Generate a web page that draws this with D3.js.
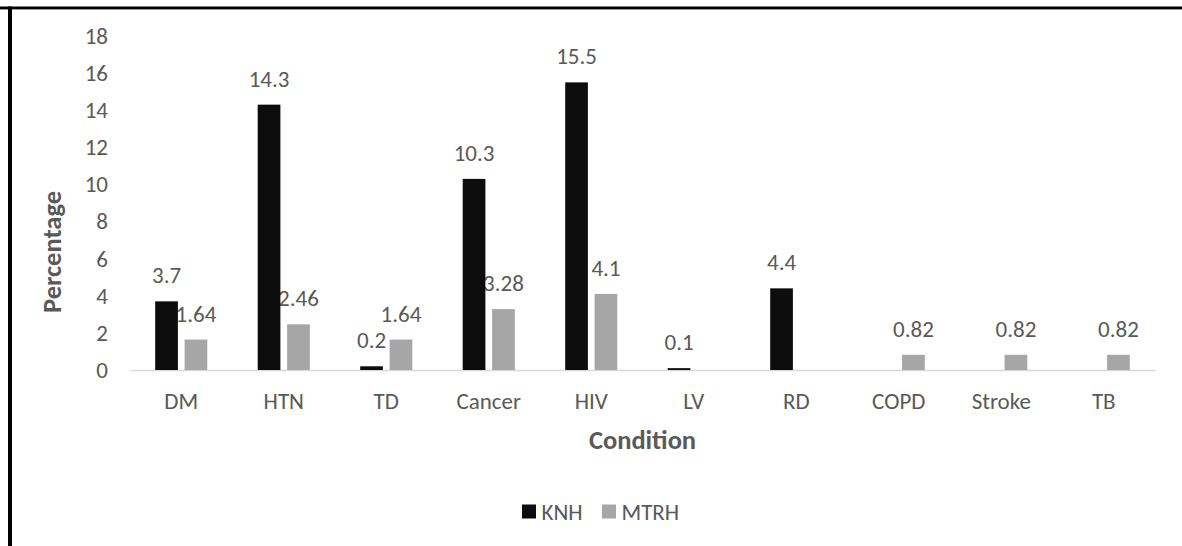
<!DOCTYPE html>
<html>
<head>
<meta charset="utf-8">
<script src="https://cdn.jsdelivr.net/npm/d3@7"></script>
<style>
  html, body { margin: 0; padding: 0; background: #fff; }
  svg { display: block; }
  text { font-family: Carlito, Lato, "Open Sans", sans-serif; fill: #595959; }
</style>
</head>
<body>
<svg id="chart" width="1182" height="546"></svg>
<script>
// Conditions on the x axis
const categories = ["DM", "HTN", "TD", "Cancer", "HIV", "LV", "RD", "COPD", "Stroke", "TB"];
// Percentages per hospital (null = not reported)
const knh  = [3.7, 14.3, 0.2, 10.3, 15.5, 0.1, 4.4, null, null, null];
const mtrh = [1.64, 2.46, 1.64, 3.28, 4.1, null, null, 0.82, 0.82, 0.82];
const seriesNames = ["KNH", "MTRH"];
const seriesColors = ["#0d0d0d", "#a6a6a6"];
const yTicks = [0, 2, 4, 6, 8, 10, 12, 14, 16, 18];

const W = 1182, H = 546;
const plot = { left: 130, right: 1155, top: 36, bottom: 370 };
const FS = 23;         // regular text size
const FS_TITLE = 26.5; // axis title size

const svg = d3.select("#chart");

// Frame lines on the top and left edge
svg.append("rect").attr("x", 0).attr("y", 6.5).attr("width", W).attr("height", 2.5).attr("fill", "#000");
svg.append("rect").attr("x", 0).attr("y", 9).attr("width", W).attr("height", 1).attr("fill", "#9a9a9a");
svg.append("rect").attr("x", 8).attr("y", 6.5).attr("width", 4).attr("height", H).attr("fill", "#000");

const x0 = d3.scaleBand().domain(categories).range([plot.left, plot.right]).paddingInner(0).paddingOuter(0);
const x1 = d3.scaleBand().domain(seriesNames).range([0, x0.bandwidth()])
  .paddingInner(0.228).paddingOuter(0.857);
const y = d3.scaleLinear().domain([0, 18]).range([plot.bottom, plot.top]);

// Y axis: labels only
const yAxis = d3.axisLeft(y).tickValues(yTicks).tickSize(0).tickPadding(0).tickFormat(d3.format("d"));
const gy = svg.append("g").attr("transform", `translate(108,0)`).call(yAxis);
gy.select(".domain").remove();
gy.selectAll("text").attr("font-size", FS).style("fill", "#595959")
  .style("font-family", "Carlito, Lato, 'Open Sans', sans-serif");

// X axis: baseline and category labels
const xAxis = d3.axisBottom(x0).tickSize(0).tickPadding(0);
const gx = svg.append("g").attr("transform", `translate(0,${plot.bottom})`).call(xAxis);
gx.select(".domain").attr("stroke", "#d9d9d9").attr("stroke-width", 1.5);
gx.selectAll("text").attr("font-size", FS).attr("dy", "0.35em").attr("y", 31)
  .style("fill", "#595959").style("font-family", "Carlito, Lato, 'Open Sans', sans-serif");

const rows = categories.map((c, i) => ({ cat: c, values: [knh[i], mtrh[i]] }));
const marks = [];
rows.forEach(r => r.values.forEach((v, j) => {
  if (v !== null) marks.push({ cat: r.cat, series: seriesNames[j], color: seriesColors[j], value: v });
}));

// Value labels (drawn beneath the bars)
svg.append("g").selectAll("text").data(marks).join("text")
  .attr("x", d => x0(d.cat) + x1(d.series) + x1.bandwidth() / 2)
  .attr("y", d => y(d.value) - 18)
  .attr("text-anchor", "middle")
  .attr("font-size", FS)
  .text(d => String(d.value));

// Bars
svg.append("g").selectAll("rect").data(marks).join("rect")
  .attr("x", d => x0(d.cat) + x1(d.series))
  .attr("width", x1.bandwidth())
  .attr("y", d => y(d.value))
  .attr("height", d => y(0) - y(d.value))
  .attr("fill", d => d.color);

// Axis titles
svg.append("text").attr("x", (plot.left + plot.right) / 2).attr("y", 440).attr("dy", "0.35em")
  .attr("text-anchor", "middle").attr("font-size", FS_TITLE).attr("font-weight", "bold").text("Condition");
svg.append("text").attr("transform", `translate(52,252) rotate(-90)`)
  .attr("dy", "0.35em").attr("text-anchor", "middle").attr("font-size", FS_TITLE).attr("font-weight", "bold")
  .text("Percentage");

// Legend
const legend = svg.append("g");
const legendItems = [{ name: "KNH", x: 522 }, { name: "MTRH", x: 602 }];
legendItems.forEach((it, i) => {
  legend.append("rect").attr("x", it.x).attr("y", 504.5).attr("width", 14).attr("height", 14).attr("fill", seriesColors[i]);
  legend.append("text").attr("x", it.x + 19.5).attr("y", 511.5).attr("dy", "0.35em").attr("font-size", FS).text(it.name);
});
</script>
</body>
</html>
